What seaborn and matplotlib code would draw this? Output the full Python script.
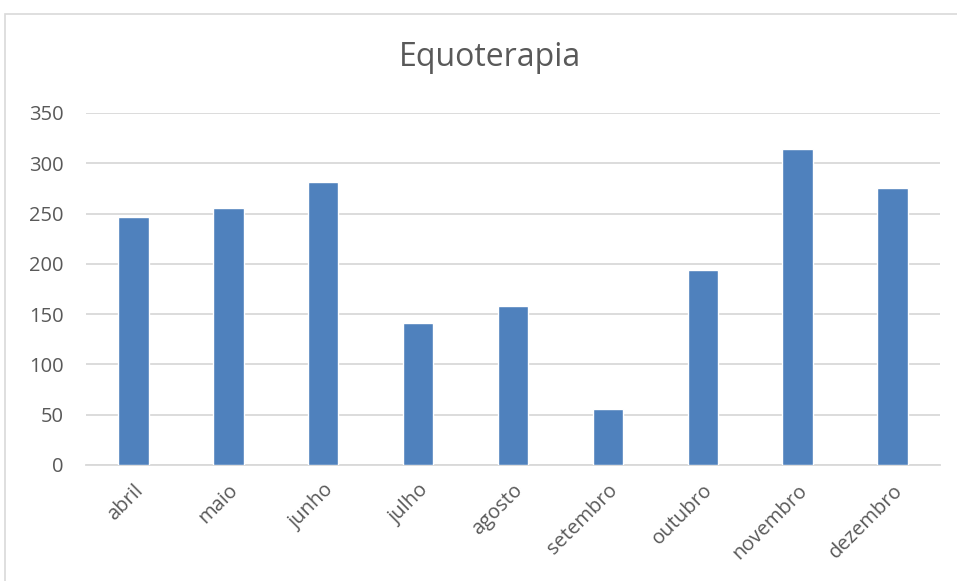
import numpy as np
import pandas as pd
import matplotlib
matplotlib.use('Agg')
import matplotlib.pyplot as plt
import seaborn as sns
from matplotlib.patches import Rectangle

# dados do grafico
meses = ['abril', 'maio', 'junho', 'julho', 'agosto', 'setembro', 'outubro', 'novembro', 'dezembro']
atendimentos = [247, 256, 281, 141, 158, 56, 194, 314, 275]
y_ticks = [0, 50, 100, 150, 200, 250, 300, 350]

df = pd.DataFrame({'mes': meses, 'valor': atendimentos})

sns.set_style('white')
plt.rcParams['font.family'] = ['Open Sans', 'DejaVu Sans']

fig = plt.figure(figsize=(9.57, 5.81), dpi=100)
ax = fig.add_axes([86 / 957, 1 - 465 / 581, (940 - 86) / 957, (465 - 113) / 581])

sns.barplot(data=df, x='mes', y='valor', color='#4f81bd', width=0.32,
            saturation=1, ax=ax, zorder=3)

ax.set_ylim(0, 350)
ax.set_yticks(y_ticks)
ax.set_xlim(-0.5, len(meses) - 0.5)
ax.yaxis.grid(True, color='#d9d9d9', linewidth=1.3, zorder=0)
ax.set_axisbelow(True)
for s in ['top', 'right', 'left']:
    ax.spines[s].set_visible(False)
ax.spines['bottom'].set_color('#d9d9d9')
ax.spines['bottom'].set_linewidth(1.3)

ax.set_xlabel('')
ax.set_ylabel('')
ax.tick_params(axis='both', length=0, labelsize=14.5, labelcolor='#595959')
ax.tick_params(axis='y', pad=16)
ax.tick_params(axis='x', pad=11)
plt.setp(ax.get_xticklabels(), rotation=45, ha='right', rotation_mode='anchor')

fig.text(490 / 957, 1 - 58 / 581, 'Equoterapia', ha='center', va='center',
         fontsize=23, color='#595959')

# moldura do grafico
fig.patches.append(Rectangle((5 / 957, -0.01), 1.1, 1 - 14 / 581 + 0.01,
                             transform=fig.transFigure, fill=False,
                             edgecolor='#d9d9d9', linewidth=1.2))

fig.savefig('out.png', dpi=100)
